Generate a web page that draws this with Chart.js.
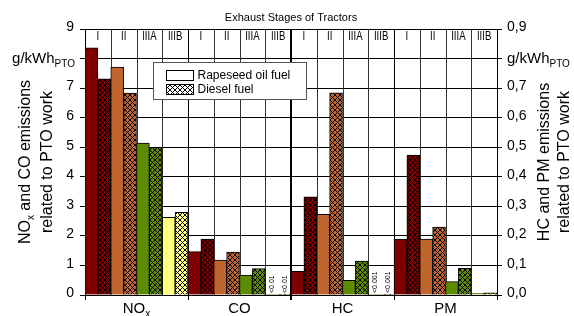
<!DOCTYPE html>
<html>
<head>
<meta charset="utf-8">
<script src="https://cdn.jsdelivr.net/npm/chart.js@4.4.0/dist/chart.umd.min.js"></script>
<style>
  html, body { margin: 0; padding: 0; background: #fff; }
  #c { display: block; }
</style>
</head>
<body>
<canvas id="c" width="574" height="316"></canvas>
<script>
const groups = ['NOx', 'CO', 'HC', 'PM'];
const stages = ['I', 'II', 'IIIA', 'IIIB'];
const fuels = ['Rapeseed oil fuel', 'Diesel fuel'];
const stageColors = ['#800000', '#c1652f', '#5e8c00', '#ffff80'];

// left axis, g/kWh_PTO, per stage I, II, IIIA, IIIB
const noxRapeseed = [8.36, 7.71, 5.14, 2.63];
const noxDiesel   = [7.31, 6.83, 5.00, 2.80];
const coRapeseed  = [1.47, 1.18, 0.67, 0.005];
const coDiesel    = [1.89, 1.45, 0.89, 0.005];
// right axis
const hcRapeseed  = [0.08, 0.273, 0.05, 0.0005];
const hcDiesel    = [0.332, 0.684, 0.115, 0.0005];
const pmRapeseed  = [0.189, 0.189, 0.045, 0.006];
const pmDiesel    = [0.473, 0.23, 0.09, 0.007];

const limitLabels = { CO: '<0.01', HC: '<0.001' };
const leftMax = 9, rightMax = 0.9;
const unitMain = 'g/kWh', unitSub = 'PTO';
const chartTitle = 'Exhaust Stages of Tractors';

const FONT = '"Liberation Sans", Arial, Helvetica, sans-serif';
Chart.defaults.font.family = FONT;
Chart.defaults.color = '#000';

const canvas = document.getElementById('c');
const c2d = canvas.getContext('2d');

// crosshatch fill for diesel bars
function hatch(color) {
  const t = document.createElement('canvas');
  t.width = t.height = 5;
  const g = t.getContext('2d');
  g.fillStyle = color; g.fillRect(0, 0, 5, 5);
  g.strokeStyle = '#000'; g.lineWidth = 1;
  g.beginPath();
  g.moveTo(-1, -1); g.lineTo(6, 6);
  g.moveTo(6, -1); g.lineTo(-1, 6);
  g.stroke();
  return c2d.createPattern(t, 'repeat');
}

// text with subscripts: parts = [[text, isSub], ...]
function richText(ctx, parts, x, y, size, align) {
  const sub = Math.round(size * 0.64);
  const font = p => (p[1] ? sub : size) + 'px ' + FONT;
  let total = 0;
  parts.forEach(p => { ctx.font = font(p); total += ctx.measureText(p[0]).width; });
  let cx = align === 'center' ? x - total / 2 : align === 'right' ? x - total : x;
  ctx.textAlign = 'left';
  ctx.textBaseline = 'alphabetic';
  parts.forEach(p => {
    ctx.font = font(p);
    ctx.fillText(p[0], cx, y + (p[1] ? size * 0.24 : 0));
    cx += ctx.measureText(p[0]).width;
  });
}

const datasets = [];
[['y', [noxRapeseed, coRapeseed], [noxDiesel, coDiesel], 0],
 ['y2', [hcRapeseed, pmRapeseed], [hcDiesel, pmDiesel], 2]].forEach(([axis, rape, diesel, first]) => {
  stages.forEach((stage, s) => {
    [rape, diesel].forEach((series, f) => {
      const data = groups.map((g, i) => (i === first || i === first + 1) ? series[i - first][s] : null);
      datasets.push({
        label: stage + ' ' + fuels[f],
        stage: stage,
        yAxisID: axis,
        data: data,
        backgroundColor: f ? hatch(stageColors[s]) : stageColors[s],
        borderColor: '#000',
        borderWidth: 1
      });
    });
  });
});

const decor = {
  id: 'decor',
  beforeDatasetsDraw(chart) {
    const { ctx, chartArea: a, scales: { x } } = chart;
    const w = x.getPixelForValue(1) - x.getPixelForValue(0);
    ctx.save();
    ctx.strokeStyle = '#333';
    ctx.lineWidth = 1;
    groups.forEach((g, i) => {
      const left = x.getPixelForValue(i) - w / 2;
      for (let k = 1; k < stages.length; k++) {
        const px = Math.round(left + k * w / stages.length) + 0.5;
        ctx.beginPath(); ctx.moveTo(px, a.top); ctx.lineTo(px, a.bottom); ctx.stroke();
      }
    });
    ctx.restore();
  },
  afterDatasetsDraw(chart) {
    const { ctx, chartArea: a, scales: { x } } = chart;
    const w = x.getPixelForValue(1) - x.getPixelForValue(0);
    ctx.save();
    ctx.fillStyle = '#000';
    // stage headers
    groups.forEach((g, i) => {
      const left = x.getPixelForValue(i) - w / 2;
      stages.forEach((st, k) => {
        ctx.save();
        ctx.translate(left + (k + 0.5) * w / stages.length, a.top + 11);
        ctx.scale(0.8, 1);
        ctx.font = '12px ' + FONT;
        ctx.textAlign = 'center';
        ctx.textBaseline = 'alphabetic';
        ctx.fillText(st, 0, 0);
        ctx.restore();
      });
    });
    // "<0.01" style labels on tiny bars
    chart.data.datasets.forEach((ds, di) => {
      if (ds.stage !== 'IIIB') return;
      const meta = chart.getDatasetMeta(di);
      groups.forEach((g, i) => {
        if (!limitLabels[g] || ds.data[i] == null) return;
        const el = meta.data[i];
        ctx.save();
        ctx.translate(el.x, a.bottom - 2);
        ctx.rotate(-Math.PI / 2);
        ctx.font = '7px ' + FONT;
        ctx.textAlign = 'left';
        ctx.textBaseline = 'middle';
        ctx.fillText(limitLabels[g], 0, 0);
        ctx.restore();
      });
    });
    // legend
    const lx = 153.5, ly = 62.5;
    ctx.fillStyle = '#fff';
    ctx.fillRect(lx, ly, 153, 37);
    ctx.strokeStyle = '#555';
    ctx.lineWidth = 1;
    ctx.strokeRect(lx, ly, 153, 37);
    fuels.forEach((f, i) => {
      const sy = ly + 8 + i * 14;
      ctx.fillStyle = i ? hatch('#fff') : '#fff';
      ctx.fillRect(lx + 13, sy, 27, 10);
      ctx.strokeStyle = '#000';
      ctx.strokeRect(lx + 13, sy, 27, 10);
      ctx.fillStyle = '#000';
      ctx.font = '12px ' + FONT;
      ctx.textAlign = 'left';
      ctx.textBaseline = 'middle';
      ctx.fillText(f, lx + 44, sy + 5.5);
    });
    ctx.restore();
  },
  afterDraw(chart) {
    const { ctx, chartArea: a, scales: { x, y, y2 } } = chart;
    ctx.save();
    ctx.fillStyle = '#000';
    // title
    ctx.font = '11px ' + FONT;
    ctx.textAlign = 'center';
    ctx.textBaseline = 'alphabetic';
    ctx.fillText(chartTitle, (a.left + a.right) / 2, 21);
    // group labels
    groups.forEach((g, i) => {
      const parts = g === 'NOx' ? [['NO', 0], ['x', 1]] : [[g, 0]];
      richText(ctx, parts, x.getPixelForValue(i), a.bottom + 18, 15, 'center');
    });
    // unit labels in place of tick 8 / 0,8
    const yl = y.getPixelForValue(8);
    richText(ctx, [[unitMain, 0], [unitSub, 1]], a.left - 10, yl + 4.5, 15, 'right');
    const yr = y2.getPixelForValue(0.8);
    richText(ctx, [[unitMain, 0], [unitSub, 1]], a.right + 10, yr + 4.5, 15, 'left');
    // axis titles
    const cy = (a.top + a.bottom) / 2;
    const vtitle = (parts, bx) => {
      ctx.save();
      ctx.translate(bx, cy);
      ctx.rotate(-Math.PI / 2);
      richText(ctx, parts, 0, 0, 16, 'center');
      ctx.restore();
    };
    vtitle([['NO', 0], ['x', 1], [' and CO emissions', 0]], 30);
    vtitle([['related to PTO work', 0]], 52);
    vtitle([['HC and PM emissions', 0]], 549);
    vtitle([['related to PTO work', 0]], 569);
    ctx.restore();
  }
};

new Chart(canvas, {
  type: 'bar',
  data: { labels: groups, datasets: datasets },
  options: {
    responsive: false,
    animation: false,
    layout: { padding: { top: 29, left: 0, right: 0, bottom: 0 } },
    plugins: { legend: { display: false }, title: { display: false }, tooltip: { enabled: false } },
    datasets: { bar: { categoryPercentage: 1, barPercentage: 1, skipNull: true } },
    scales: {
      x: {
        offset: true,
        grid: { offset: true, color: '#000', lineWidth: c => c.index === 2 ? 2 : 1, tickLength: 5 },
        border: { color: '#000' },
        ticks: { display: false },
        afterFit: s => { s.height = 21; }
      },
      y: {
        position: 'left', min: 0, max: leftMax,
        grid: { color: '#000', tickLength: 5 },
        border: { color: '#000' },
        ticks: { stepSize: 1, padding: 6, labelOffset: -1.5, font: { size: 14 }, callback: v => v === 8 ? '' : v },
        afterFit: s => { s.width = 85; }
      },
      y2: {
        position: 'right', min: 0, max: rightMax,
        grid: { drawOnChartArea: false, color: '#000', tickLength: 5 },
        border: { color: '#000' },
        ticks: { stepSize: 0.1, padding: 5, labelOffset: -1.5, font: { size: 14 },
          callback: v => Math.abs(v - 0.8) < 1e-9 ? '' : v.toFixed(1).replace('.', ',') },
        afterFit: s => { s.width = 77; }
      }
    }
  },
  plugins: [decor]
});
</script>
</body>
</html>
